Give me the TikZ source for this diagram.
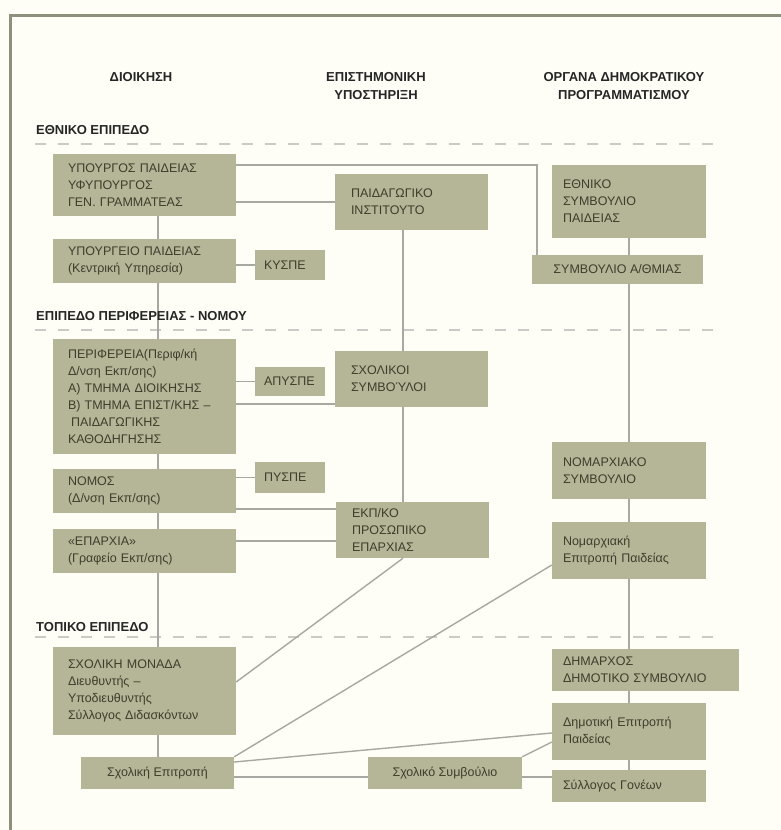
\documentclass[tikz,border=0pt]{standalone}
\usepackage{fontspec}
\setmainfont{Liberation Sans}
\definecolor{boxfill}{RGB}{181,181,152}
\definecolor{boxtext}{RGB}{62,62,44}
\definecolor{linkgray}{RGB}{168,168,163}
\definecolor{dashgray}{RGB}{202,202,198}
\definecolor{bgpaper}{RGB}{254,254,247}
\definecolor{framecol}{RGB}{140,144,124}

\begin{document}
\begin{tikzpicture}[x=1pt, y=-1pt,
  box/.style={fill=boxfill, text=boxtext, font=\fontsize{12.5}{17}\selectfont, inner ysep=0pt, align=left},
  lbox/.style={box, inner xsep=15pt, text width=153pt},
  mbox/.style={box, inner xsep=16pt, text width=121pt},
  rbox/.style={box, inner xsep=11pt, text width=132pt},
  sbox/.style={box, inner xsep=9pt, text width=52pt},
  cbox/.style={box, inner xsep=0pt, align=center},
  conn/.style={draw=linkgray, line width=1.4pt},
  leveldash/.style={draw=dashgray, line width=1.4pt, dash pattern=on 11pt off 12pt},
  colhead/.style={font=\bfseries\fontsize{13}{18}\selectfont, text=black!85, align=center, anchor=north, inner sep=0pt},
  levellabel/.style={font=\bfseries\fontsize{13}{15}\selectfont, text=black!85, anchor=north west, inner sep=0pt}]

\useasboundingbox (0,0) rectangle (781,830);
\fill[bgpaper] (0,0) rectangle (781,830);
\draw[framecol, line width=3pt] (10,830) -- (10,15) -- (781,15);

% level separators
\draw[leveldash] (35,144) -- (720,144);
\draw[leveldash] (35,330) -- (720,330);
\draw[leveldash] (35,637) -- (720,637);

% Left column
\node[lbox, minimum height=62pt] (min) at (144.5,185) {ΥΠΟΥΡΓΟΣ ΠΑΙΔΕΙΑΣ\\ΥΦΥΠΟΥΡΓΟΣ\\ΓΕΝ. ΓΡΑΜΜΑΤΕΑΣ};
\node[lbox, minimum height=44pt] (ypourg) at (144.5,261) {ΥΠΟΥΡΓΕΙΟ ΠΑΙΔΕΙΑΣ\\(Κεντρική Υπηρεσία)};
\node[sbox, minimum height=30pt] (kyspe) at (290,265) {ΚΥΣΠΕ};
\node[lbox, minimum height=115pt] (perif) at (144.5,396.5) {ΠΕΡΙΦΕΡΕΙΑ(Περιφ/κή\\Δ/νση Εκπ/σης)\\Α) ΤΜΗΜΑ ΔΙΟΙΚΗΣΗΣ\\Β) ΤΜΗΜΑ ΕΠΙΣΤ/ΚΗΣ –\\\hspace*{3pt}ΠΑΙΔΑΓΩΓΙΚΗΣ\\ΚΑΘΟΔΗΓΗΣΗΣ};
\node[sbox, minimum height=29pt] (apyspe) at (290,381.5) {ΑΠΥΣΠΕ};
\node[lbox, minimum height=44pt] (nomos) at (144.5,491) {ΝΟΜΟΣ\\(Δ/νση Εκπ/σης)};
\node[sbox, minimum height=31pt] (pyspe) at (290,477.5) {ΠΥΣΠΕ};
\node[lbox, minimum height=44pt] (eparx) at (144.5,551) {«ΕΠΑΡΧΙΑ»\\(Γραφείο Εκπ/σης)};
\node[lbox, minimum height=88pt] (monada) at (144.5,691) {ΣΧΟΛΙΚΗ ΜΟΝΑΔΑ\\Διευθυντής –\\Υποδιευθυντής\\Σύλλογος Διδασκόντων};
\node[cbox, minimum width=153pt, minimum height=32pt] (schep) at (157.5,773) {Σχολική Επιτροπή};

% Middle column
\node[mbox, minimum height=56pt] (pi) at (411.5,202) {ΠΑΙΔΑΓΩΓΙΚΟ\\ΙΝΣΤΙΤΟΥΤΟ};
\node[mbox, minimum height=56pt] (scs) at (411.5,379) {ΣΧΟΛΙΚΟΙ\\ΣΥΜΒΟΎΛΟΙ};
\node[mbox, minimum height=56pt] (ekp) at (412.5,530) {ΕΚΠ/ΚΟ\\ΠΡΟΣΩΠΙΚΟ\\ΕΠΑΡΧΙΑΣ};
\node[cbox, minimum width=154pt, minimum height=32pt] (sxsymb) at (445,773) {Σχολικό Συμβούλιο};

% Right column
\node[rbox, minimum height=73pt] (esp) at (629,201.5) {ΕΘΝΙΚΟ\\ΣΥΜΒΟΥΛΙΟ\\ΠΑΙΔΕΙΑΣ};
\node[cbox, minimum width=171pt, minimum height=29pt] (athm) at (617.5,269.5) {ΣΥΜΒΟΥΛΙΟ Α/ΘΜΙΑΣ};
\node[rbox, minimum height=57pt] (nomsymb) at (629,470.5) {ΝΟΜΑΡΧΙΑΚΟ\\ΣΥΜΒΟΥΛΙΟ};
\node[rbox, minimum height=57pt] (nomepit) at (629,550.5) {Νομαρχιακή\\Επιτροπή Παιδείας};
\node[rbox, text width=165pt, minimum height=42pt] (dimarx) at (645.5,670) {ΔΗΜΑΡΧΟΣ\\ΔΗΜΟΤΙΚΟ ΣΥΜΒΟΥΛΙΟ};
\node[rbox, minimum height=57pt] (dimepit) at (629,731.5) {Δημοτική Επιτροπή\\Παιδείας};
\node[rbox, minimum height=32pt] (goneis) at (629,786) {Σύλλογος Γονέων};

% spines and turning points
\coordinate (spineL) at (158,0);
\coordinate (spineM) at (403,0);
\coordinate (spineR) at (629,0);
\coordinate (turn) at (537,165);
\coordinate (hsc) at (0,404);
\coordinate (hnom) at (0,509);
\coordinate (hepa) at (0,541);
\coordinate (hnep) at (0,565);
\coordinate (hmon) at (0,682);
\coordinate (hdim) at (0,733);
\coordinate (hsym) at (0,742);
\coordinate (hsch) at (0,762);
\coordinate (hlow) at (0,777);

% Left spine
\draw[conn] (min.south -| spineL) -- (ypourg.north -| spineL);
\draw[conn] (ypourg.south -| spineL) -- (perif.north -| spineL);
\draw[conn] (perif.south -| spineL) -- (nomos.north -| spineL);
\draw[conn] (nomos.south -| spineL) -- (eparx.north -| spineL);
\draw[conn] (eparx.south -| spineL) -- (monada.north -| spineL);
\draw[conn] (monada.south -| spineL) -- (schep.north -| spineL);

% side boxes
\draw[conn] (ypourg.east |- kyspe.west) -- (kyspe.west);
\draw[conn] (perif.east |- apyspe.west) -- (apyspe.west);
\draw[conn] (nomos.east |- pyspe.west) -- (pyspe.west);

% to the middle column
\draw[conn] (min.east |- pi.west) -- (pi.west);
\draw[conn] (min.east |- turn) -- (turn) -- (turn |- athm.north);
\draw[conn] (perif.east |- hsc) -- (scs.west |- hsc);
\draw[conn] (nomos.east |- hnom) -- (ekp.west |- hnom);
\draw[conn] (eparx.east |- hepa) -- (ekp.west |- hepa);
\draw[conn] (pi.south -| spineM) -- (scs.north -| spineM);
\draw[conn] (scs.south -| spineM) -- (ekp.north -| spineM);
\draw[conn] (ekp.south -| spineM) -- (monada.east |- hmon);

% Right spine
\draw[conn] (esp.south -| spineR) -- (athm.north -| spineR);
\draw[conn] (athm.south -| spineR) -- (nomsymb.north -| spineR);
\draw[conn] (nomsymb.south -| spineR) -- (nomepit.north -| spineR);
\draw[conn] (nomepit.south -| spineR) -- (dimarx.north -| spineR);
\draw[conn] (dimarx.south -| spineR) -- (dimepit.north -| spineR);
\draw[conn] (dimepit.south -| spineR) -- (goneis.north -| spineR);

% local level
\draw[conn] (nomepit.west |- hnep) -- (schep.north east);
\draw[conn] (schep.east |- hsch) -- (dimepit.west |- hdim);
\draw[conn] (sxsymb.north east) -- (dimepit.west |- hsym);
\draw[conn] (schep.east |- hlow) -- (sxsymb.west |- hlow);
\draw[conn] (sxsymb.east |- hlow) -- (goneis.west |- hlow);

% Headers and level labels
\node[colhead] (hdioik) at (141,72) {ΔΙΟΙΚΗΣΗ};
\node[colhead] (hepist) at (376,72) {ΕΠΙΣΤΗΜΟΝΙΚΗ\\ΥΠΟΣΤΗΡΙΞΗ};
\node[colhead] (horgana) at (624,72) {ΟΡΓΑΝΑ ΔΗΜΟΚΡΑΤΙΚΟΥ\\ΠΡΟΓΡΑΜΜΑΤΙΣΜΟΥ};
\node[levellabel] (lethniko) at (36,125) {ΕΘΝΙΚΟ ΕΠΙΠΕΔΟ};
\node[levellabel] (lperif) at (36,311) {ΕΠΙΠΕΔΟ ΠΕΡΙΦΕΡΕΙΑΣ - ΝΟΜΟΥ};
\node[levellabel] (ltopiko) at (36,622) {ΤΟΠΙΚΟ ΕΠΙΠΕΔΟ};

\end{tikzpicture}
\end{document}
